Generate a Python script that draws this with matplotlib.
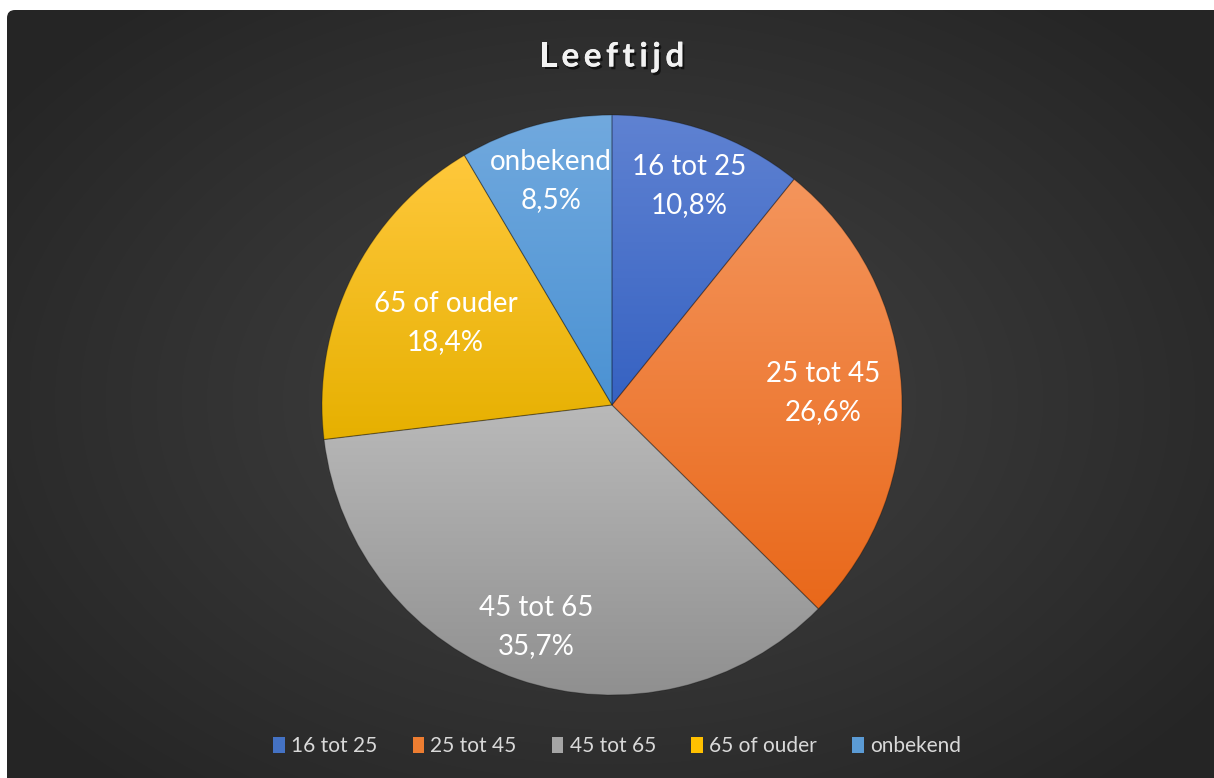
import numpy as np
import matplotlib
matplotlib.use("Agg")
import matplotlib.pyplot as plt
from matplotlib.colors import LinearSegmentedColormap
from matplotlib.patches import FancyBboxPatch, Patch
import matplotlib.patheffects as pe

plt.rcParams['font.family'] = ['Lato', 'DejaVu Sans']

# data
title = 'Leeftijd'
categories = ['16 tot 25', '25 tot 45', '45 tot 65', '65 of ouder', 'onbekend']
percentages = [10.8, 26.6, 35.7, 18.4, 8.5]
pct_labels = ['10,8%', '26,6%', '35,7%', '18,4%', '8,5%']

# top/bottom colours of each slice gradient
top_colors = ['#5f82d2', '#f4955c', '#b9b9b9', '#ffc83c', '#71a9de']
bottom_colors = ['#3662c2', '#e9681a', '#8f8f8f', '#e6b000', '#4b92d3']
legend_colors = ['#4472c4', '#ed7d31', '#a5a5a5', '#ffc000', '#5b9bd5']
label_dist = [0.80, 0.73, 0.81, 0.64, 0.80]

W, H = 1214, 778
fig = plt.figure(figsize=(W / 100, H / 100), dpi=100)
fig.patch.set_facecolor('white')

# achtergrond met radiaal verloop
bg = fig.add_axes([0, 0, 1, 1])
bg.set_xlim(0, W)
bg.set_ylim(H, 0)
bg.axis('off')
yy, xx = np.mgrid[0:H, 0:W]
d = np.sqrt(((xx - 612) / 760) ** 2 + ((yy - 400) / 520) ** 2)
val = 0x43 - (0x43 - 0x25) * np.clip(d, 0, 1)
bg_img = np.dstack([val, val, val]) / 255
im = bg.imshow(bg_img, extent=[0, W, H, 0], interpolation='bilinear')
box = FancyBboxPatch((7, 10), W + 20, H + 20, boxstyle='round,pad=0,rounding_size=8',
                     transform=bg.transData, facecolor='none', edgecolor='none')
bg.add_patch(box)
im.set_clip_path(box)

# titel met extra letterafstand: letter voor letter plaatsen
renderer = fig.canvas.get_renderer()
tkw = dict(fontsize=24, fontweight='bold', color='#f2f2f2', va='center', ha='left',
           path_effects=[pe.withSimplePatchShadow(offset=(1.5, -2), shadow_rgbFace='black', alpha=0.6),
                         pe.Normal()])
spacing = 4.5
widths = []
for ch in title:
    t = bg.text(0, 0, ch, **tkw)
    widths.append(t.get_window_extent(renderer).width)
    t.remove()
total = sum(widths) + spacing * (len(title) - 1)
x = 612 - total / 2
for ch, wd in zip(title, widths):
    bg.text(x, 57, ch, **tkw)
    x += wd + spacing

# taart
cx, cy, R = 612, 405, 290
ax = fig.add_axes([(cx - R) / W, (H - cy - R) / H, 2 * R / W, 2 * R / H])
wedges, _ = ax.pie(percentages, startangle=90, counterclock=False,
                   wedgeprops=dict(linewidth=0.8, edgecolor=(0, 0, 0, 0.25)))
grad = np.linspace(0, 1, 256).reshape(-1, 1)
for w, ct, cb in zip(wedges, top_colors, bottom_colors):
    verts = w.get_path().vertices
    x0, x1 = verts[:, 0].min(), verts[:, 0].max()
    y0, y1 = verts[:, 1].min(), verts[:, 1].max()
    cmap = LinearSegmentedColormap.from_list('g', [cb, ct])
    gi = ax.imshow(grad, extent=[x0, x1, y0, y1], origin='lower', cmap=cmap,
                   aspect='auto', zorder=1, interpolation='bilinear')
    gi.set_clip_path(w)
    w.set_facecolor('none')
    w.set_zorder(2)

for w, cat, pl, r in zip(wedges, categories, pct_labels, label_dist):
    ang = np.deg2rad((w.theta1 + w.theta2) / 2)
    ax.text(r * np.cos(ang), r * np.sin(ang), cat + '\n' + pl, ha='center', va='center',
            fontsize=20, color='white', linespacing=1.55, zorder=3)
ax.set_xlim(-1, 1)
ax.set_ylim(-1, 1)
ax.set_aspect('equal')
ax.axis('off')

handles = [Patch(facecolor=c, edgecolor='none') for c in legend_colors]
fig.legend(handles, categories, loc='center', bbox_to_anchor=(617 / W, 1 - 746 / H),
           ncol=5, frameon=False, fontsize=15, labelcolor='#d9d9d9',
           handlelength=0.55, handleheight=0.8, handletextpad=0.3, columnspacing=1.7)

fig.savefig('out.png', dpi=100, facecolor='white')
